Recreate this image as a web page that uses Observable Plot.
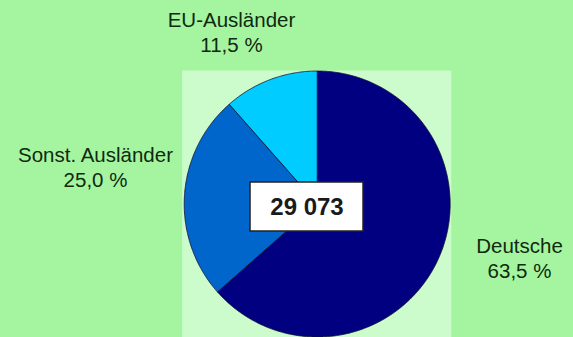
<!DOCTYPE html>
<html>
<head>
<meta charset="utf-8">
<script src="https://cdn.jsdelivr.net/npm/d3@7"></script>
<script src="https://cdn.jsdelivr.net/npm/@observablehq/plot@0.6"></script>
<style>
  html, body { margin: 0; padding: 0; background: #a5f5a0; }
  #chart { width: 573px; height: 337px; overflow: hidden; }
</style>
</head>
<body>
<div id="chart"></div>
<script>
// Data
const categories = ["Deutsche", "Sonst. Ausländer", "EU-Ausländer"];
const shares = [63.5, 25.0, 11.5];
const shareLabels = ["63,5 %", "25,0 %", "11,5 %"];
const totalLabel = "29 073";
const colors = ["#000080", "#0066cc", "#00ccff"];

// Layout
const W = 573, H = 337;
const cx = 316.7, cy = 203.5, r = 133;
const labelPos = { // label block centres in pixel space
  "Deutsche": [519, 257],
  "Sonst. Ausländer": [95, 165.5],
  "EU-Ausländer": [231, 31]
};
const box = {x1: 250, x2: 363, y1: 182, y2: 231};

// Build slice polygons from the shares (clockwise from 12 o'clock)
const total = d3.sum(shares);
const polys = [];
let acc = 0;
categories.forEach((c, i) => {
  const a0 = acc / total * 2 * Math.PI;
  acc += shares[i];
  const a1 = acc / total * 2 * Math.PI;
  polys.push({cat: c, x: cx, y: cy});
  const n = Math.max(2, Math.ceil((a1 - a0) / (Math.PI / 360)));
  for (let k = 0; k <= n; k++) {
    const a = a0 + (a1 - a0) * k / n;
    polys.push({cat: c, x: cx + r * Math.sin(a), y: cy - r * Math.cos(a)});
  }
  polys.push({cat: c, x: cx, y: cy});
});

const labels = categories.map((c, i) => ({
  cat: c, text: c + "\n" + shareLabels[i], x: labelPos[c][0], y: labelPos[c][1]
}));

const chart = Plot.plot({
  width: W, height: H,
  margin: 0,
  x: {domain: [0, W], range: [0, W], axis: null},
  y: {domain: [0, H], range: [0, H], axis: null},
  color: {domain: categories, range: colors},
  style: {background: "#a5f5a0", fontFamily: "Liberation Sans, Arial, sans-serif"},
  marks: [
    Plot.rect([0], {x1: cx - r - 1.5, x2: cx + r + 1.5, y1: cy - r, y2: H + 5, fill: "#ccfccc"}),
    Plot.line(polys, {x: "x", y: "y", z: "cat", fill: "cat", stroke: "#101030", strokeWidth: 0.8}),
    Plot.rect([0], {x1: box.x1, x2: box.x2, y1: box.y1, y2: box.y2, fill: "white", stroke: "#222", strokeWidth: 1.5}),
    Plot.text([totalLabel], {x: (box.x1 + box.x2) / 2, y: (box.y1 + box.y2) / 2, text: d => d, fontSize: 24, fontWeight: "bold", fill: "#1a1a1a"}),
    Plot.text(labels, {x: "x", y: "y", text: "text", fontSize: 20.5, lineHeight: 1.22, lineAnchor: "middle", fill: "#0f2a0f", textAnchor: "middle"})
  ]
});
document.getElementById("chart").appendChild(chart);
</script>
</body>
</html>
